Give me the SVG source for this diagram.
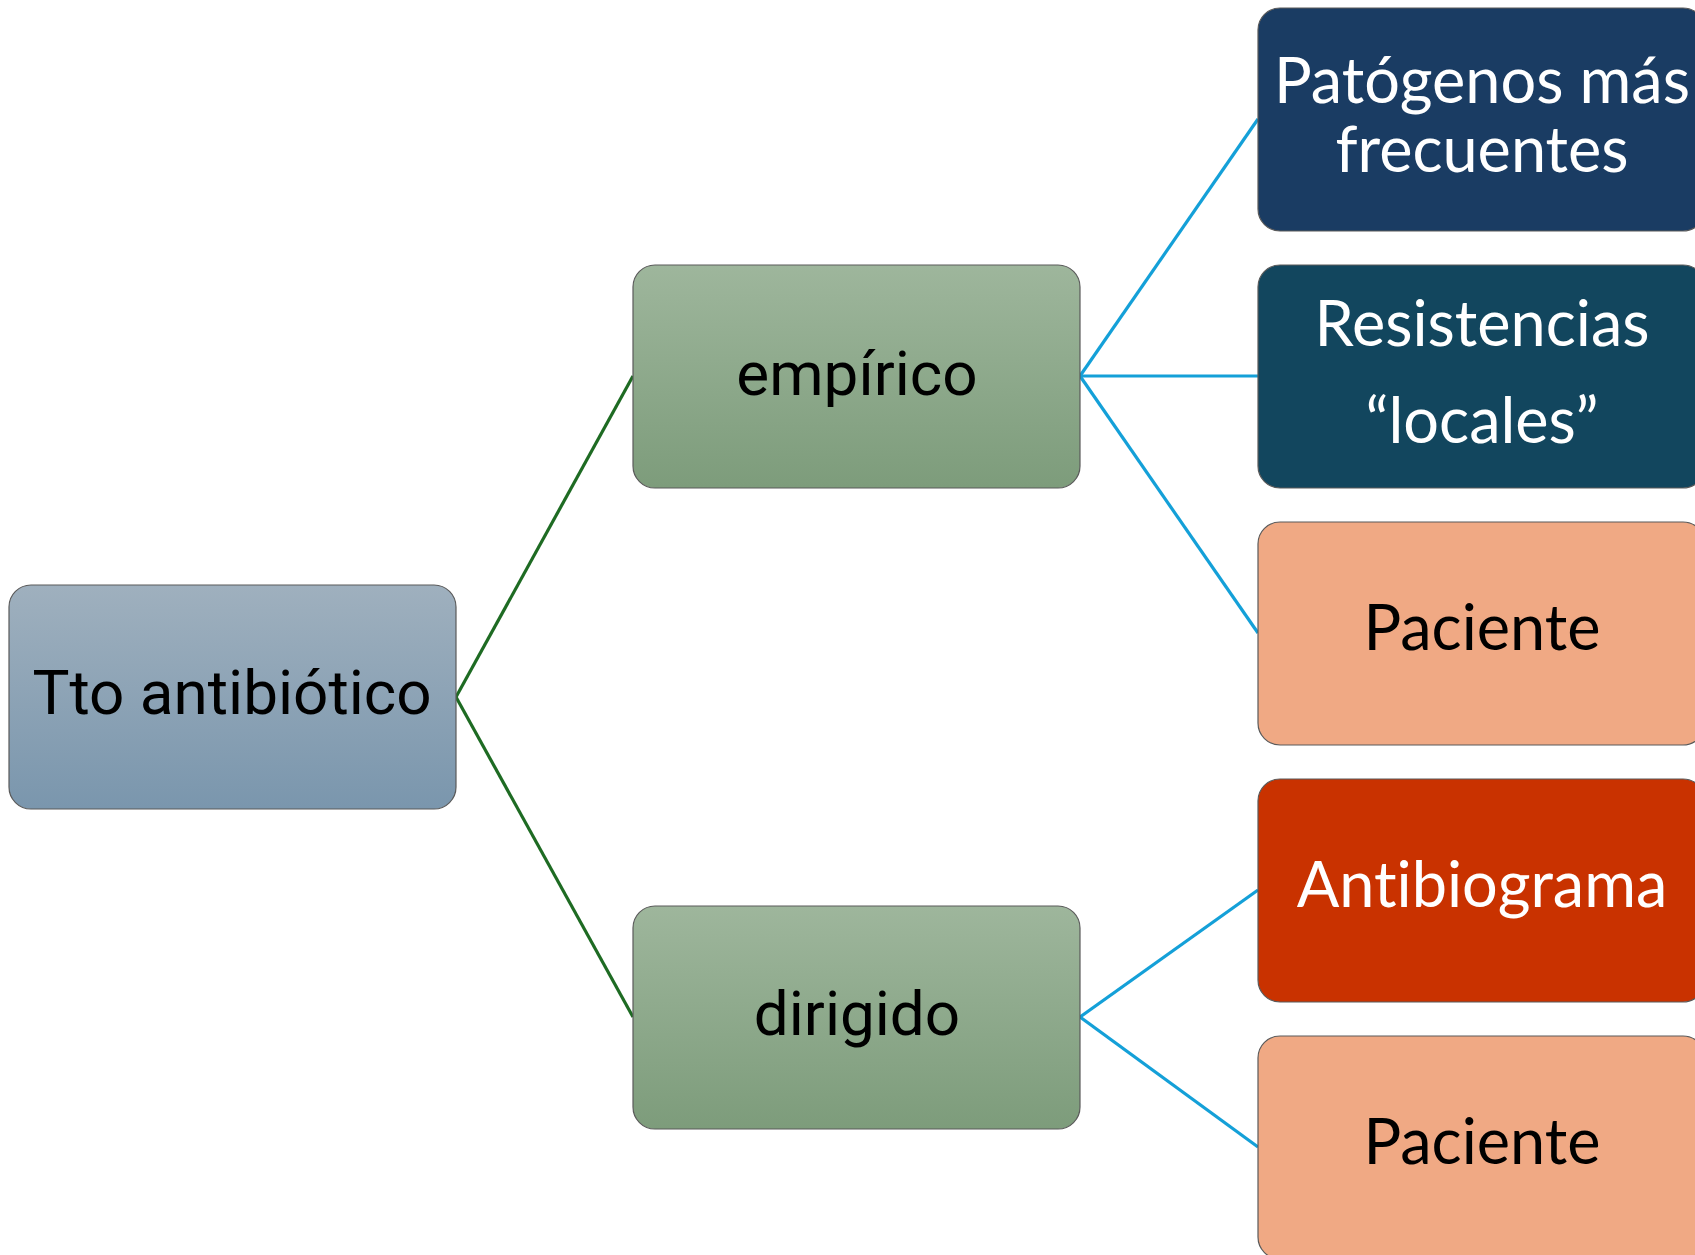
<svg xmlns="http://www.w3.org/2000/svg" width="1695" height="1255" viewBox="0 0 1695 1255">
<style>
.box{stroke:#5a5a5a;stroke-width:1.2}
.t1{font-family:Roboto,"Liberation Sans",sans-serif;font-size:62px;fill:#000;text-anchor:middle}
.t2{font-family:Lato,"Noto Sans",sans-serif;font-size:63px;text-anchor:middle;font-variant-ligatures:none;font-feature-settings:"liga" 0}
.w{fill:#fff}
.k{fill:#000}
.g{stroke:#1e6b23;stroke-width:3.2;fill:none}
.b{stroke:#14a0d8;stroke-width:3.2;fill:none}
</style>
<defs>
<linearGradient id="gBlue" x1="0" y1="0" x2="0" y2="1"><stop offset="0" stop-color="#9fb0be"/><stop offset="1" stop-color="#7a96ad"/></linearGradient>
<linearGradient id="gGreen" x1="0" y1="0" x2="0" y2="1"><stop offset="0" stop-color="#9eb69c"/><stop offset="1" stop-color="#7d9c7b"/></linearGradient>
</defs>
<rect width="1695" height="1255" fill="#fff"/>
<g id="connectors">
<path class="g" d="M456 697 L633 376"/>
<path class="g" d="M456 697 L633 1017"/>
<path class="b" d="M1080 376 L1258 119"/>
<path class="b" d="M1080 376 L1258 376"/>
<path class="b" d="M1080 376 L1258 633"/>
<path class="b" d="M1080 1017 L1258 890"/>
<path class="b" d="M1080 1017 L1258 1147"/>
</g>
<g id="root">
<rect class="box" x="9" y="585" width="447" height="224" rx="22" fill="url(#gBlue)"/>
<text class="t1" x="232" y="714">Tto antibiótico</text>
</g>
<g id="empirico">
<rect class="box" x="633" y="265" width="447" height="223" rx="22" fill="url(#gGreen)"/>
<text class="t1" x="857" y="395">empírico</text>
</g>
<g id="dirigido">
<rect class="box" x="633" y="906" width="447" height="223" rx="22" fill="url(#gGreen)"/>
<text class="t1" x="857" y="1035">dirigido</text>
</g>
<g id="patogenos">
<rect class="box" x="1258" y="8" width="447" height="223" rx="22" fill="#1a3c63"/>
<text class="t2 w" x="1482" y="103">Patógenos más</text>
<text class="t2 w" x="1482" y="172">frecuentes</text>
</g>
<g id="resistencias">
<rect class="box" x="1258" y="265" width="447" height="223" rx="22" fill="#12465e"/>
<text class="t2 w" x="1482" y="346">Resistencias</text>
<text class="t2 w" x="1482" y="443">“locales”</text>
</g>
<g id="paciente1">
<rect class="box" x="1258" y="522" width="447" height="223" rx="22" fill="#f0a984"/>
<text class="t2 k" x="1482" y="650">Paciente</text>
</g>
<g id="antibiograma">
<rect class="box" x="1258" y="779" width="447" height="223" rx="22" fill="#c93200"/>
<text class="t2 w" x="1482" y="907">Antibiograma</text>
</g>
<g id="paciente2">
<rect class="box" x="1258" y="1036" width="447" height="223" rx="22" fill="#f0a984"/>
<text class="t2 k" x="1482" y="1164">Paciente</text>
</g>
</svg>
